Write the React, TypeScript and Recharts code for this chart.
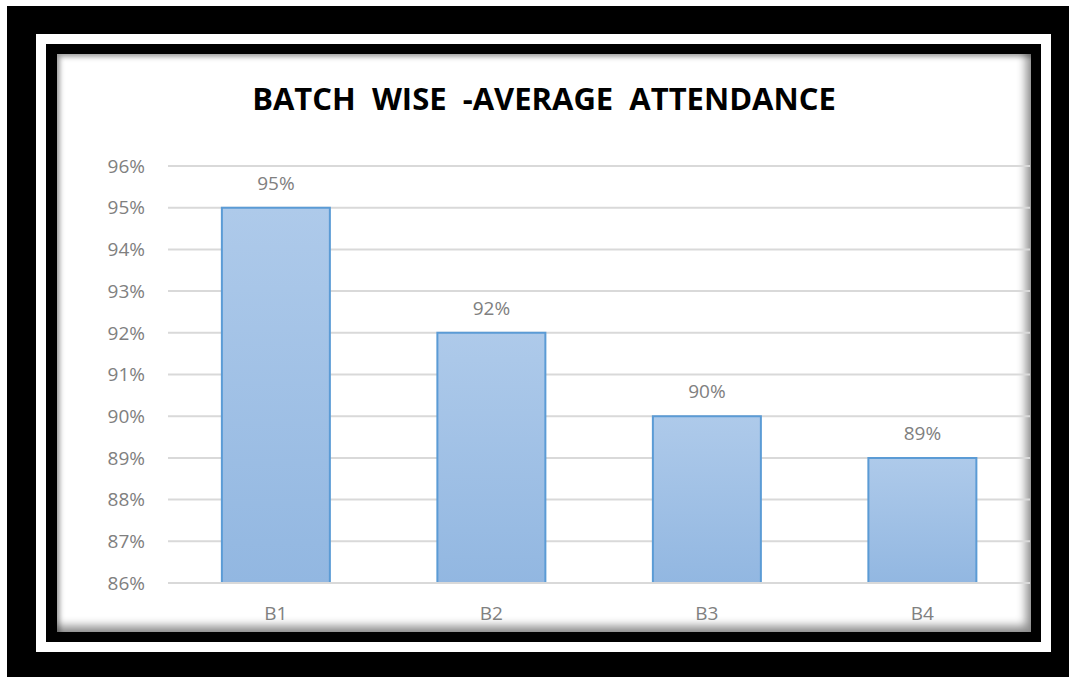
import React from 'react';
import { BarChart, Bar, XAxis, YAxis, CartesianGrid, LabelList } from 'recharts';

const batches = ['B1', 'B2', 'B3', 'B4'];
const attendance = [95, 92, 90, 89];
const yTicks = [86, 87, 88, 89, 90, 91, 92, 93, 94, 95, 96];
const title = 'BATCH  WISE  -AVERAGE  ATTENDANCE';

const data = batches.map((b, i) => ({ name: b, value: attendance[i] }));

const FONT = '"Open Sans", "Noto Sans", sans-serif';
const GRAY_TEXT = '#808080';

export default function App() {
  return (
    <div style={{ position: 'absolute', left: 0, top: 0, width: 1069, height: 677, background: '#ffffff', overflow: 'hidden' }}>
      <div style={{ position: 'absolute', left: 7, top: 6, width: 1062, height: 671, background: '#000' }} />
      <div style={{ position: 'absolute', left: 36, top: 34, width: 1015, height: 618, background: '#fff' }} />
      <div style={{ position: 'absolute', left: 46, top: 44, width: 995, height: 598, background: '#000' }} />
      <div
        style={{
          position: 'absolute',
          left: 57,
          top: 54,
          width: 974,
          height: 578,
          background: '#ffffff',
          boxShadow: 'inset -5px -6px 10px rgba(0,0,0,0.45), inset 3px 3px 5px rgba(0,0,0,0.35)',
        }}
      >
        <div
          style={{
            position: 'absolute',
            left: 0,
            top: 24,
            width: 974,
            textAlign: 'center',
            fontFamily: FONT,
            fontWeight: 700,
            fontSize: 31,
            lineHeight: '40px',
            color: '#000',
            whiteSpace: 'pre',
          }}
        >
          {title}
        </div>
        <BarChart
          width={974}
          height={578}
          data={data}
          margin={{ top: 112, right: 1, bottom: 19, left: 0 }}
          barCategoryGap="25%"
          style={{ position: 'absolute', left: 0, top: 0 }}
        >
          <defs>
            <linearGradient id="barFill" x1="0" y1="0" x2="0" y2="1">
              <stop offset="0%" stopColor="#aecaea" />
              <stop offset="100%" stopColor="#92b7e1" />
            </linearGradient>
          </defs>
          <CartesianGrid vertical={false} stroke="#d9d9d9" strokeWidth={2} />
          <XAxis
            dataKey="name"
            height={30}
            axisLine={{ stroke: '#d9d9d9', strokeWidth: 2 }}
            tickLine={false}
            tickMargin={18}
            tick={{ fill: GRAY_TEXT, fontSize: 19, fontFamily: FONT }}
          />
          <YAxis
            width={111}
            domain={[86, 96]}
            ticks={yTicks}
            interval={0}
            axisLine={false}
            tickLine={false}
            tickMargin={17}
            tickFormatter={(v: number) => `${v}%`}
            tick={{ fill: GRAY_TEXT, fontSize: 19, fontFamily: FONT }}
          />
          <Bar dataKey="value" fill="url(#barFill)" stroke="#5b9bd5" strokeWidth={2} isAnimationActive={false}>
            <LabelList
              dataKey="value"
              position="top"
              offset={18}
              formatter={(v: number) => `${v}%`}
              style={{ fill: GRAY_TEXT, fontSize: 19, fontFamily: FONT }}
            />
          </Bar>
        </BarChart>
      </div>
    </div>
  );
}
